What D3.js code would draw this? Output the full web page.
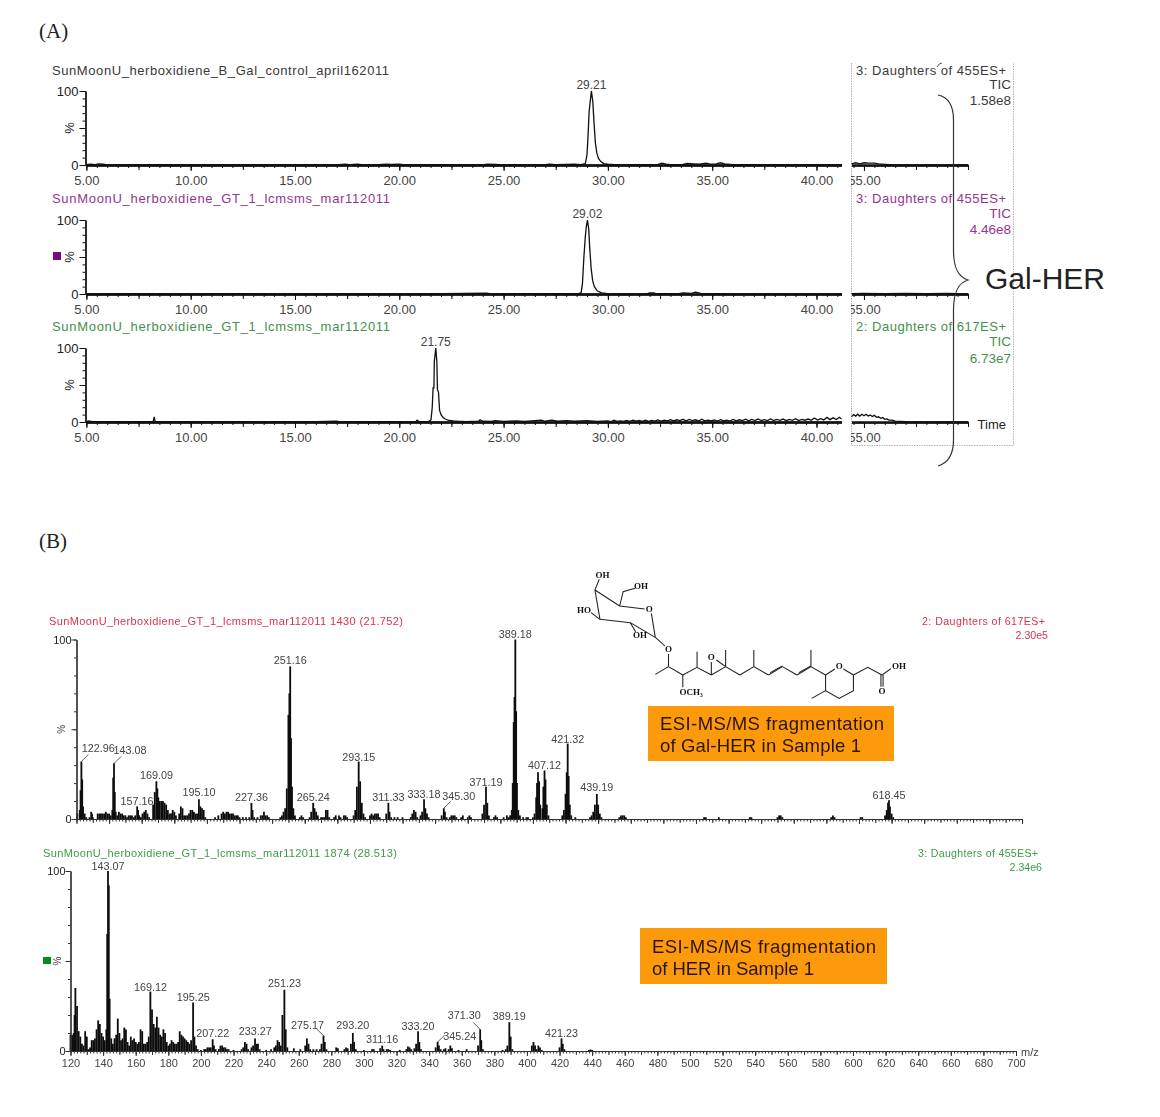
<!DOCTYPE html>
<html><head><meta charset="utf-8">
<script src="https://cdn.jsdelivr.net/npm/d3@7/dist/d3.min.js"></script>
<style>
html,body{margin:0;padding:0;background:#fff}
svg{display:block}
text{font-family:"Liberation Sans",Arial,sans-serif}
</style></head><body>
<svg id="c" width="1160" height="1117"></svg>
<script>
// ---------- Panel A: chromatogram traces, [retention time, % intensity] ----------
const traceControl = [[5,0.6],[5.2,1.2],[5.4,0.4],[5.6,1.4],[5.8,1.2],[6,0.2],[7,0.2],[9,0.6],[9.2,0.2],[12,0.2],[15,0.3],[17,0.3],[17.4,1.2],[17.6,0.4],[18,1],[18.3,0.3],[19,0.6],[19.4,1.2],[19.6,0.8],[20,1.2],[20.3,0.3],[22,0.5],[24,0.3],[24.2,1.2],[24.6,0.8],[25,0.3],[26,0.3],[27,0.5],[27.2,1.2],[27.5,0.4],[28,0.8],[28.4,1],[28.7,0.6],[28.92,2],[29.0,14],[29.05,40],[29.1,72],[29.17,90],[29.21,100],[29.28,85],[29.33,60],[29.4,30],[29.47,16],[29.55,9],[29.65,5],[29.8,2],[30,1],[30.5,0.3],[31.5,0.5],[32.4,0.8],[32.6,2.4],[32.8,1.2],[33,0.6],[33.6,0.8],[33.8,2],[34.1,1.6],[34.4,1],[34.7,2.4],[34.9,1.2],[35.2,1.5],[35.4,3],[35.6,1.6],[36,0.6],[37,0.4],[38,0.5],[39,0.3],[40,0.4],[41.2,0.3]];
const traceControlTail = [[54.4,1.5],[54.6,3],[54.8,1.6],[55,3],[55.2,2.4],[55.5,2.6],[55.7,1.4],[56,0.9],[56.5,0.3],[58,0.1],[60,0]];
const traceGt455 = [[5,0.3],[7,0.5],[9,0.3],[11,0.4],[14,0.3],[17,0.5],[20,0.3],[22,0.4],[24.2,1],[24.4,0.3],[27,0.4],[28.6,0.4],[28.72,2],[28.78,14],[28.85,50],[28.92,78],[28.97,92],[29.02,100],[29.08,88],[29.13,62],[29.2,34],[29.27,18],[29.35,10],[29.5,4],[29.7,1.5],[30,0.6],[31,0.3],[31.9,0.4],[32.0,1.6],[32.2,1.6],[32.3,0.4],[33.4,0.5],[33.6,1.6],[33.8,1.2],[34,0.8],[34.2,2.5],[34.45,0.8],[36,0.3],[38,0.3],[41.2,0.3]];
const traceGt455Tail = [[54.4,0.4],[55,0.8],[56,0.4],[57,0.7],[58,0.5],[59,0.8],[60,0.3]];
const traceGt617 = [[5,0.6],[5.1,1.6],[5.3,0.5],[6,0.4],[7,0.5],[8.2,0.5],[8.25,7],[8.3,0.5],[10,0.4],[13,0.4],[16,0.5],[17,1],[17.1,0.4],[20,0.5],[20.8,0.6],[20.85,2.4],[20.95,0.5],[21.4,0.5],[21.52,3],[21.58,20],[21.62,46],[21.66,46],[21.68,82],[21.75,100],[21.8,82],[21.83,44],[21.88,40],[21.93,16],[22,10],[22.1,6],[22.2,4],[22.4,2],[22.6,1.4],[22.8,1],[23.2,0.6],[23.8,1],[23.87,3],[24,1],[24.4,0.8],[24.6,1.8],[25,0.8],[25.6,1.6],[26,0.8],[26.5,1.8],[26.8,2.4],[27,1],[27.3,2.4],[27.6,1],[28,1.8],[28.4,1],[29,1.8],[29.5,0.8],[30,1.4],[30.15,0.6],[30.3,2.4],[30.45,0.8],[30.6,1.6],[30.75,0.8],[30.9,2.2],[31.05,1],[31.2,2.6],[31.35,1.2],[31.5,2],[31.65,0.8],[31.8,2.4],[31.95,1],[32.1,2.2],[32.25,1.2],[32.4,2.8],[32.55,1.2],[32.7,2.4],[32.85,1.4],[33,3.2],[33.15,1.4],[33.3,3],[33.45,1.8],[33.6,3.6],[33.75,1.6],[33.9,3.4],[34.05,2],[34.2,3],[34.35,1.4],[34.5,3.8],[34.65,1.6],[34.8,2.6],[34.95,1.4],[35.1,2.8],[35.25,1.2],[35.4,3.2],[35.55,1.4],[35.7,2.4],[35.85,1.2],[36,3.4],[36.15,1.6],[36.3,3],[36.45,1.8],[36.6,3.8],[36.75,1.6],[36.9,3.4],[37.05,2],[37.2,4],[37.35,1.8],[37.5,3.2],[37.65,2],[37.8,4.2],[37.95,2],[38.1,3.6],[38.25,2.2],[38.4,4],[38.55,1.8],[38.7,3.4],[38.85,2.2],[39,4.4],[39.15,2],[39.3,3.6],[39.45,2.4],[39.6,4],[39.75,2.2],[39.9,5.4],[40.05,2.6],[40.2,4.6],[40.35,2.8],[40.5,6.2],[40.65,3.2],[40.8,5.6],[40.95,3.4],[41.1,6.4],[41.2,4]];
const traceGt617Tail = [[54.4,7],[54.5,10],[54.6,8],[54.7,10.5],[54.8,8],[54.9,10.5],[55,8.4],[55.1,10.5],[55.2,8],[55.3,9.4],[55.4,7.4],[55.5,9],[55.6,6.4],[55.7,7],[55.8,5],[55.9,6],[56,3.6],[56.1,4.2],[56.2,2.6],[56.35,2.4],[56.5,1.2],[56.8,0.8],[57.2,0.3],[58,0.2],[60,0.1]];

const panelTitles = ["SunMoonU_herboxidiene_B_Gal_control_april162011","SunMoonU_herboxidiene_GT_1_lcmsms_mar112011","SunMoonU_herboxidiene_GT_1_lcmsms_mar112011"];
const panelChannels = ["3: Daughters of 455ES+","3: Daughters of 455ES+","2: Daughters of 617ES+"];
const panelScales = ["1.58e8","4.46e8","6.73e7"];
const panelPeaks = [[29.21,"29.21"],[29.02,"29.02"],[21.75,"21.75"]];
const timeTicks = [5,10,15,20,25,30,35,40];

// ---------- Panel B: spectra, [m/z, % intensity] ----------
const sticksGal = [[120.5,3],[122,5],[122.5,16],[123,32],[123.5,22],[124,7],[125,3],[126,1],[128,1],[129,4],[129.5,3],[130,1],[133,3],[134,3],[135,3],[136,3],[137,3],[138,4],[139,3],[140,3],[141,2],[142,5],[142.5,23],[143,31],[143.5,15],[144,4],[145,2],[146,4],[147,3],[148,3],[149,2],[150,2],[151,1],[152,2],[153,2],[154,2],[155,1],[156,2],[157.2,7],[157.8,5],[158.5,2],[159.5,1],[160.5,3],[161.5,4],[162.5,5],[163.5,3],[164.5,1],[167,8],[168,15],[169,21],[169.6,17],[170.2,12],[171,10],[172,10],[173,10],[174,9],[175,8],[176,5],[177,3],[178,3],[179,5],[180,4],[181,2],[183,3],[184,7],[185,6],[186,2],[187,2],[188,2],[189,3],[190,5],[191,5],[192,4],[193,3],[194,3],[195.1,11],[196,7],[197,6],[198,5],[199,1],[205,1],[207,2],[209,3],[210,4],[211,3],[212,4],[213,4],[214,3],[215,3],[216,3],[217,2],[218,2],[219,2],[220,1],[222,1],[224,1],[226,1],[227.3,9],[228,5],[229,1],[231,1],[233,2],[234,2],[235,4],[236,2],[237,2],[238,1],[245,1],[246,2],[247,4],[248,6],[249,17],[250,58],[250.6,70],[251.1,85],[251.6,45],[252.2,18],[253,6],[254,2],[257,1],[258,2],[259,1],[263,1],[264,4],[265.2,9],[266,6],[267,4],[268,2],[270,1],[271,1],[272,1],[273,5],[274,5],[275,1],[278,1],[279,2],[281,2],[282,1],[284,2],[285,2],[286,1],[290,2],[291,5],[292,18],[293.1,32],[294,21],[295,9],[296,3],[297,1],[300,2],[301,3],[302,2],[303,3],[304,3],[305,3],[306,1],[310,3],[311.3,9],[312,4],[313,1],[315,1],[317,1],[320,1],[325,1],[326,3],[327,5],[328,4],[329,1],[331,2],[332,4],[333.2,11],[334,6],[335,3],[336,1],[344,2],[345.3,6],[346,4],[347,1],[349,1],[350,2],[351,2],[352,2],[353,1],[356,1],[357,2],[360,1],[361,2],[362,1],[369,3],[370,8],[371.2,18],[372,9],[373,2],[376,1],[377,2],[378,1],[382,1],[384,2],[385,1],[386,2],[387,5],[387.6,20],[388.2,54],[388.7,68],[389.2,100],[389.7,60],[390.2,20],[391,5],[392,2],[394,1],[396,1],[397,1],[400,1],[401,3],[402,12],[402.5,20],[403.1,26],[403.8,21],[404.5,8],[405.8,6],[406.4,18],[407.1,27],[407.7,22],[408.5,8],[409.5,2],[418,2],[419,5],[420,14],[420.7,26],[421.3,42],[421.9,24],[422.6,8],[423.5,2],[426,1],[435,1],[436,2],[437,4],[438,8],[439.2,14],[440,8],[441,3],[442,1],[453,1],[454,2],[455,2],[456,2],[457,1],[505,1],[506,1],[514,1],[533,1],[534,1],[550,1],[551,2],[552,2],[553,1],[583,1],[584,2],[585,1],[601,1],[602,1],[616,2],[617,5],[617.8,9],[618.4,10.5],[619,7],[620,3],[621,1]];
const labelsGal = [122.96,143.08,157.16,169.09,195.10,227.36,251.16,265.24,293.15,311.33,333.18,345.30,371.19,389.18,407.12,421.32,439.19,618.45];
const sticksHer = [[120,9],[121,9],[122,10],[122.5,20],[123,35],[124,25],[125,11],[126,8],[127,4],[128,3],[129,11],[130,8],[131,1],[132,2],[133,6],[134,6],[135,7],[136,12],[137,17],[138,15],[139,10],[140,8],[141,6],[142,12],[142.5,65],[143,100],[143.5,92],[144,29],[145,7],[146,4],[147,7],[148,9],[149,18],[150,10],[151,6],[152,7],[153,13],[154,12],[155,5],[156,3],[157,8],[158,6],[159,7],[160,5],[161,4],[162,5],[163,12],[164,11],[165,4],[166,4],[167,5],[168,8],[169,33],[170,23],[171,15],[172,13],[173,19],[174,13],[175,9],[176,8],[177,12],[178,10],[179,5],[180,3],[181,4],[182,6],[183,5],[184,4],[185,4],[186,5],[187,11],[188,9],[189,8],[190,7],[191,6],[192,5],[193,4],[194,6],[195.2,27],[196,8],[197,3],[198,1],[200,0.6],[202,1],[203,1],[204,2],[205,2],[206,2],[207.2,6.5],[208,3],[209,1],[211,1],[212,3],[213,3],[214,2],[215,2],[216,1],[217,1],[220,0.6],[225,1],[226,2],[227,5],[228,4],[229,1],[231,2],[232,3],[233.2,7],[234,4],[235,4],[236,1],[240,0.6],[243,1],[245,2],[246,3],[247,6],[248,5],[249,3],[250,20],[251.2,34],[252,12],[253,2],[257,1.5],[261,1],[264,3],[265,7],[266,4],[267,1],[269,1],[271,1],[273,1],[274,4],[275.2,8.5],[276,5],[277,1],[283,2],[284,1.5],[288,1],[289,2],[290,1.5],[292,4],[293.2,10],[294,5],[295,1],[300,0.6],[305,1],[306,1],[310,1.5],[311.2,3],[312,1],[314,1],[315,1],[316,0.6],[322,0.6],[326,1],[327,2.5],[328,2],[329,1],[331,1.5],[332,4],[333.2,11],[334,5],[335,1],[344,2],[345.2,5],[346,3],[347,1],[349,1],[350,1.5],[352,1],[353,3],[354,1.5],[358,0.6],[363,1],[370,3],[371.3,12],[372,6],[373,1],[385,0.6],[387,1],[388,3],[389.2,16],[390,8],[391,1],[403,3],[404,5],[405,3],[406,1],[407,3],[408,2],[409,0.6],[420,2],[421.2,7],[422,4],[423,1],[438,0.6],[439,0.8],[440,0.6]];
const labelsHer = [143.07,169.12,195.25,207.22,233.27,251.23,275.17,293.20,311.16,333.20,345.24,371.30,389.19,421.23];
const massTicks = [120,140,160,180,200,220,240,260,280,300,320,340,360,380,400,420,440,460,480,500,520,540,560,580,600,620,640,660,680,700];
const pctTicks = [0,50,100];

// ---------- Layout (not data) ----------
const svg = d3.select("#c");
const ink = "#222", gray = "#444";
const chromColors = ["#3a3a3a","#93358f","#45904a"];
const chromRows = [{top:91,base:165,title:74.5,tic:89,sc:105,lab:89},{top:220,base:294,title:202.5,tic:218,sc:234,lab:217.5},{top:348,base:422,title:331,tic:346,sc:362.5,lab:345.5}];
const tLeft = d3.scaleLinear().domain([5,41.2]).range([86.4,841.5]);
const tRight = d3.scaleLinear().domain([54.4,60]).range([851.5,968]);

const defs = svg.append("defs");
defs.append("clipPath").attr("id","tailClip").append("rect").attr("x",851).attr("y",0).attr("width",300).attr("height",1117);
defs.append("filter").attr("id","soft").attr("x",0).attr("y",0).attr("width",1).attr("height",1).attr("filterUnits","objectBoundingBox").append("feGaussianBlur").attr("stdDeviation",0.3);

function txt(g,x,y,s,size,fill,anchor,len){
  const t = g.append("text").attr("x",x).attr("y",y).attr("font-size",size).attr("fill",fill).attr("text-anchor",anchor||"start").text(s);
  if(len) t.attr("textLength",len).attr("lengthAdjust","spacing");
  return t;
}
function styleAxis(g,w,col){
  g.selectAll(".domain").attr("stroke",col||"#111").attr("stroke-width",w);
  g.selectAll(".tick line").attr("stroke",col||"#111").attr("stroke-width",1);
}
function range(a,b,s){const r=[];for(let i=0;Math.round((a+i*s)*100)/100<=b;i++)r.push(Math.round((a+i*s)*100)/100);return r;}

// section letters
svg.append("text").attr("x",39).attr("y",38).attr("font-size",21).attr("fill","#222").style("font-family","'Liberation Serif',serif").text("(A)");
svg.append("text").attr("x",39).attr("y",548).attr("font-size",21).attr("fill","#222").style("font-family","'Liberation Serif',serif").text("(B)");

// dotted frame
const frame = svg.append("g").attr("fill","none").attr("stroke","#b5b5b5").attr("stroke-dasharray","1.5 1");
frame.append("path").attr("d","M851.5,63V445.5H1013.5V63");

const traces = [[traceControl,traceControlTail],[traceGt455,traceGt455Tail],[traceGt617,traceGt617Tail]];
const titleLens = [337,338,338];
chromRows.forEach((r,i)=>{
  const g = svg.append("g");
  const y = d3.scaleLinear().domain([0,100]).range([r.base,r.top]);
  const c = chromColors[i];
  txt(g,52,r.title,panelTitles[i],13,c,"start",titleLens[i]);
  txt(g,856,r.title,panelChannels[i],13,c,"start",150);
  txt(g,1011,r.tic,"TIC",13.5,c,"end");
  txt(g,1011,r.sc,panelScales[i],13.5,c,"end");

  // y axis
  const yMin = g.append("g").attr("transform","translate(85.5,0)").call(d3.axisLeft(y).tickValues(range(0,100,10)).tickSize(3).tickSizeOuter(0).tickFormat(""));
  styleAxis(yMin,1.3);
  const yMaj = g.append("g").attr("transform","translate(85.5,0)").call(d3.axisLeft(y).tickValues(pctTicks).tickSize(6).tickSizeOuter(0).tickPadding(1).tickFormat(d=>d===50?"":d));
  styleAxis(yMaj,1.3);
  yMaj.selectAll("text").attr("font-size",13).attr("fill",ink).style("font-family","'Liberation Sans',sans-serif");
  g.append("text").attr("transform",`translate(69,${y(50)}) rotate(-90)`).attr("text-anchor","middle").attr("dy","0.35em").attr("font-size",13).attr("fill",ink).text("%");

  // x axes
  [[tLeft,range(5,41,0.5),range(5,40,2.5),timeTicks,false],[tRight,range(54.5,60,0.5),range(55,60,2.5),[55],true]].forEach(([sc,minor,mid,major,clip])=>{
    const a = g.append("g").attr("transform",`translate(0,${r.base})`);
    a.append("g").call(d3.axisBottom(sc).tickValues(minor).tickSize(3).tickSizeOuter(0).tickFormat("")).call(styleAxis,2);
    a.append("g").call(d3.axisBottom(sc).tickValues(mid).tickSize(5).tickSizeOuter(0).tickFormat("")).call(styleAxis,2);
    const m = a.append("g").call(d3.axisBottom(sc).tickValues(major).tickSize(6).tickSizeOuter(0).tickPadding(4.5).tickFormat(d3.format(".2f"))).call(styleAxis,2);
    m.selectAll("text").attr("font-size",13).attr("fill",gray).style("font-family","'Liberation Sans',sans-serif");
    if(clip) m.attr("clip-path","url(#tailClip)");
  });

  // traces
  const lineL = d3.line().x(d=>tLeft(d[0])).y(d=>y(d[1]));
  const lineR = d3.line().x(d=>tRight(d[0])).y(d=>y(d[1]));
  g.append("path").attr("d",lineL(traces[i][0])).attr("fill","none").attr("stroke","#111").attr("stroke-width",1.3);
  g.append("path").attr("d",lineR(traces[i][1])).attr("fill","none").attr("stroke","#111").attr("stroke-width",1.3);
  const pk = panelPeaks[i];
  txt(g,tLeft(pk[0]),r.lab,pk[1],12,gray,"middle");
});
svg.append("rect").attr("x",53).attr("y",252).attr("width",8).attr("height",8).attr("fill","#7d0a80");
txt(svg,1006,428.5,"Time",13,"#222","end");

// brace and tilde
svg.append("path").attr("fill","none").attr("stroke","#333").attr("stroke-width",1.2)
  .attr("d","M938,95C948,97 953.5,104 953.5,120V250C953.5,268 958,277 968,280C958,283 953.5,292 953.5,310V440C953.5,455 948,463 938,466");
svg.append("path").attr("fill","none").attr("stroke","#555").attr("d","M937,67Q939,63 942,63");
txt(svg,985,289,"Gal-HER",30,"#222");

// ---------- spectra ----------
function spectrum(o){
  const g = svg.append("g").attr("filter","url(#soft)");
  const x = d3.scaleLinear().domain([120,700]).range([o.x0,o.x1]);
  const y = d3.scaleLinear().domain([0,100]).range([o.base,o.top]);
  const mt = range(120,700,2), md = range(120,700,10);
  g.selectAll(".s").data(o.sticks).join("line").attr("x1",d=>x(d[0])).attr("x2",d=>x(d[0])).attr("y1",y(0)).attr("y2",d=>y(d[1])).attr("stroke","#0a0a0a").attr("stroke-width",1.8);
  const a = g.append("g").attr("transform",`translate(0,${o.base})`);
  a.append("g").call(d3.axisBottom(x).tickValues(mt).tickSize(2.5).tickSizeOuter(0).tickFormat("")).call(styleAxis,1.2,"#333");
  a.append("g").call(d3.axisBottom(x).tickValues(md).tickSize(4).tickSizeOuter(0).tickFormat("")).call(styleAxis,1.2,"#333");
  const m = a.append("g").call(d3.axisBottom(x).tickValues(massTicks).tickSize(5).tickSizeOuter(0).tickPadding(3).tickFormat(o.xLabels?d=>d:""));
  styleAxis(m,1.2,"#333");
  m.selectAll("text").attr("font-size",11).attr("fill",gray).style("font-family","'Liberation Sans',sans-serif");
  const yL = g.append("g").attr("transform",`translate(${o.x0},0)`).call(d3.axisLeft(y).tickValues(range(0,100,10)).tickSize(2.5).tickSizeOuter(0).tickFormat(""));
  styleAxis(yL,1.2,"#333");
  const yM = g.append("g").attr("transform",`translate(${o.x0},0)`).call(d3.axisLeft(y).tickValues(pctTicks).tickSize(5).tickSizeOuter(0).tickPadding(0).tickFormat(d=>d===50?"":d));
  styleAxis(yM,1.2,"#333");
  yM.selectAll("text").attr("font-size",11).attr("fill",ink).style("font-family","'Liberation Sans',sans-serif");
  g.append("text").attr("transform",`translate(${o.pctX},${y(50)}) rotate(-90)`).attr("text-anchor","middle").attr("dy","0.35em").attr("font-size",10).attr("fill",gray).text("%");
  txt(g,o.titleX,o.titleY,o.title,o.titleSize,o.color,"start",354);
  txt(g,o.chRight,o.titleY,o.channel,10.6,o.color,"end",o.chLen);
  txt(g,o.scRight,o.titleY+13.5,o.scale,10.6,o.color,"end");
  o.labels.forEach((mz,i)=>{
    const near = o.sticks.filter(s=>Math.abs(s[0]-mz)<0.6);
    const p = d3.max(near,s=>s[1]);
    const [dx,dy] = o.nudge[i];
    const px = x(mz), py = y(p);
    txt(g,px+dx,py+dy,mz.toFixed(2),10.8,gray,"middle");
    if(Math.abs(dx)>8) g.append("path").attr("d",`M${px},${py}L${px+(dx>0?7:-7)},${py-7}`).attr("stroke","#333").attr("fill","none").attr("stroke-width",.8);
  });
  return g;
}
spectrum({x0:76.5,x1:1022,top:639.5,base:819,sticks:sticksGal,labels:labelsGal,xLabels:false,pctX:61.5,color:"#d8344d",titleX:49,titleY:625,titleSize:11,
  title:"SunMoonU_herboxidiene_GT_1_lcmsms_mar112011  1430 (21.752)",channel:"2: Daughters of 617ES+",chRight:1045,chLen:123,scRight:1048,scale:"2.30e5",
  nudge:[[17,-10],[16,-9],[0,-1],[0,-2],[0,-3],[0,-2],[0,-2],[0,-2],[0,-1],[0,-2],[0,-1],[15,-8],[0,-1],[0,-2],[0,-2],[0,-1],[0,-3],[0,-1]]});
spectrum({x0:70.5,x1:1016,top:871,base:1051,sticks:sticksHer,labels:labelsHer,xLabels:true,pctX:57,color:"#3f9a45",titleX:43,titleY:857,titleSize:11,
  title:"SunMoonU_herboxidiene_GT_1_lcmsms_mar112011  1874 (28.513)",channel:"3: Daughters of 455ES+",chRight:1038,chLen:120,scRight:1042,scale:"2.34e6",
  nudge:[[0,-1],[0,-1],[0,-1],[0,-2],[0,-3],[0,-3],[-16,-7],[0,-4],[0,-3],[0,-1],[22,-2],[-16,-10],[0,-2],[0,-1]]});
txt(svg,1021,1056,"m/z",11,gray);
svg.append("rect").attr("x",43).attr("y",957).attr("width",8).attr("height",7).attr("fill","#0a8a1e");

// orange captions
const cap = [{x:648,y:706,w:246,h:55,a:"ESI-MS/MS fragmentation",b:"of Gal-HER in Sample 1",tx:660,y1:730,y2:752,lb:201},{x:640,y:928,w:247,h:56,a:"ESI-MS/MS fragmentation",b:"of HER in Sample 1",tx:652,y1:953,y2:975,lb:162}];
cap.forEach(c=>{
  svg.append("rect").attr("x",c.x).attr("y",c.y).attr("width",c.w).attr("height",c.h).attr("fill","#fd9a0c");
  [[c.a,c.y1,224],[c.b,c.y2,c.lb]].forEach(([s,yy,len])=>svg.append("text").attr("x",c.tx).attr("y",yy).attr("font-size",18.5).attr("textLength",len).attr("lengthAdjust","spacing").attr("fill","#2a1600").text(s));
});

// Gal-HER structure drawing
const mol = svg.append("g").attr("transform","translate(500,560) scale(0.357,0.3333)");
const bonds = ["M266,90L278,58","M266,90L335,138","M335,138L345,95L378,85","M335,138L405,147","M424,160L435,232","M435,232L365,188","M365,188L280,178","M280,178L266,90","M280,178L255,158","M365,188L380,215","M435,232L462,258","M472,282L472,320","M472,320L435,343","M472,320L512,345","M512,345L512,382","M512,345L552,322","M552,322L552,275","M552,322L592,345","M592,345L632,320","M592,345L592,306","M632,320L606,300","M632,320L632,270","M632,320L672,345","M672,345L711,320","M711,320L711,270","M711,320L752,345","M752,345L791,320","M757,338L791,318","M791,320L832,345","M832,345L871,320","M837,338L871,318","M871,320L871,270","M871,320L912,345","M912,345L938,327","M962,327L990,345","M990,345L1030,322L1070,345","M1070,345L1095,326","M1067,345V380","M1073,345V380","M990,345V392L950,415L912,392V345","M912,392L873,415"];
mol.selectAll("path").data(bonds).join("path").attr("d",d=>d).attr("fill","none").attr("stroke","#222").attr("stroke-width",3);
const atoms = [["OH",287,44],["OH",395,77],["O",418,148],["HO",235,150],["OH",392,226],["O",472,268],["O",592,292],["OCH₃",535,395],["O",950,319],["OH",1118,319],["O",1070,393]];
atoms.forEach(a=>svg.append("text").attr("x",500+a[1]*0.357).attr("y",560+a[2]*0.3333+3).attr("text-anchor","middle").attr("font-size",9).attr("font-weight","bold").attr("fill","#111").style("font-family","'Liberation Serif',serif").text(a[0]));
</script></body></html>
